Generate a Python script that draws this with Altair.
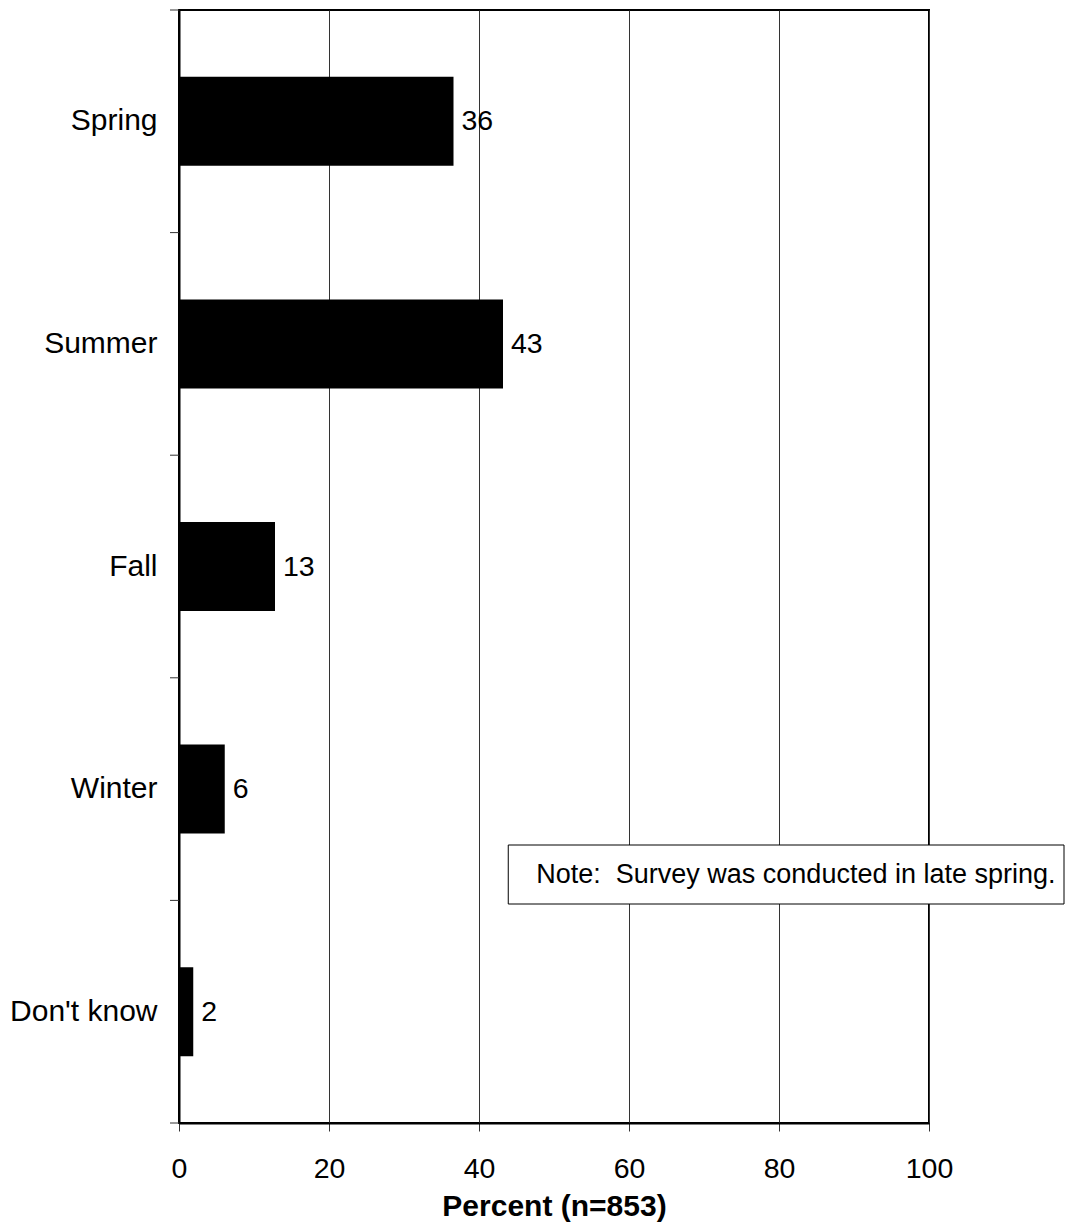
import altair as alt
import pandas as pd

categories = ["Spring", "Summer", "Fall", "Winter", "Don't know"]
values = [36.6, 43.2, 12.8, 6.1, 1.9]
labels = ["36", "43", "13", "6", "2"]
x_ticks = [0, 20, 40, 60, 80, 100]
note_text = "Note:\u00a0 Survey was conducted in late spring."
note_x = [43.9, 118.0]

df = pd.DataFrame({"season": categories, "pct": values, "label": labels})
note_df = pd.DataFrame({"x": [note_x[0]], "x2": [note_x[1]], "t": [note_text]})

FONT = "Liberation Sans"
W, H = 750, 1113
PAD = {"left": 171, "top": 2, "right": 136, "bottom": 100}

ybar_scale = alt.Scale(paddingInner=0.6, paddingOuter=0.3)

x_enc = alt.X(
    "pct:Q",
    scale=alt.Scale(domain=[0, 100]),
    axis=alt.Axis(
        values=x_ticks,
        title="Percent (n=853)",
        titleFont=FONT,
        titleFontSize=30,
        titleFontWeight="bold",
        titleColor="black",
        titlePadding=9,
        labelFont=FONT,
        labelFontSize=28.5,
        labelColor="black",
        labelPadding=23,
        labelFlush=False,
        tickSize=8,
        tickColor="#333333",
        tickWidth=1,
        domainColor="black",
        domainWidth=2,
        grid=True,
        gridColor="#333333",
        gridWidth=1,
    ),
)

bars = alt.Chart(df).mark_bar(color="black").encode(
    x=x_enc,
    y=alt.Y(
        "season:N",
        sort=categories,
        scale=ybar_scale,
        axis=alt.Axis(
            title=None,
            labelFont=FONT,
            labelFontSize=30,
            labelColor="black",
            labelPadding=22,
            ticks=False,
            tickSize=0,
            domainColor="black",
            domainWidth=2,
            grid=False,
        ),
    ),
)

text = alt.Chart(df).mark_text(
    align="left", baseline="middle", dx=8, font=FONT, fontSize=28.5, color="black"
).encode(
    x="pct:Q",
    y=alt.Y("season:N", sort=categories, scale=ybar_scale),
    text="label:N",
)

base = alt.layer(bars, text)

ytick_top = alt.Chart(df).mark_rule(color="#333333", strokeWidth=1).encode(
    y=alt.Y("season:N", sort=categories, scale=alt.Scale(paddingInner=0, paddingOuter=0), axis=None, bandPosition=0),
    x=alt.value(-9),
    x2=alt.value(0),
)
ytick_bottom = alt.Chart(df).transform_filter(
    alt.datum.season == categories[-1]
).mark_rule(color="#333333", strokeWidth=1).encode(
    y=alt.Y("season:N", sort=categories, scale=alt.Scale(paddingInner=0, paddingOuter=0), axis=None, bandPosition=1),
    x=alt.value(-9),
    x2=alt.value(0),
)

box = alt.Chart(note_df).mark_rect(
    fill="white", stroke="black", strokeWidth=1, clip=False
).encode(x="x:Q", x2="x2:Q", y=alt.value(835), y2=alt.value(894))

note = alt.Chart(note_df).mark_text(
    align="left", baseline="middle", dx=28, font=FONT, fontSize=27, color="black", clip=False
).encode(x="x:Q", y=alt.value(865), text="t:N")

chart = (
    alt.layer(base, ytick_top, ytick_bottom, box, note)
    .resolve_scale(y="independent")
    .properties(
        width=W,
        height=H,
        padding=PAD,
        autosize=alt.AutoSizeParams(type="none"),
        background="white",
    )
    .configure_view(stroke="black", strokeWidth=2)
)

chart.save("out.html", embed_options={"renderer": "svg", "actions": False})
